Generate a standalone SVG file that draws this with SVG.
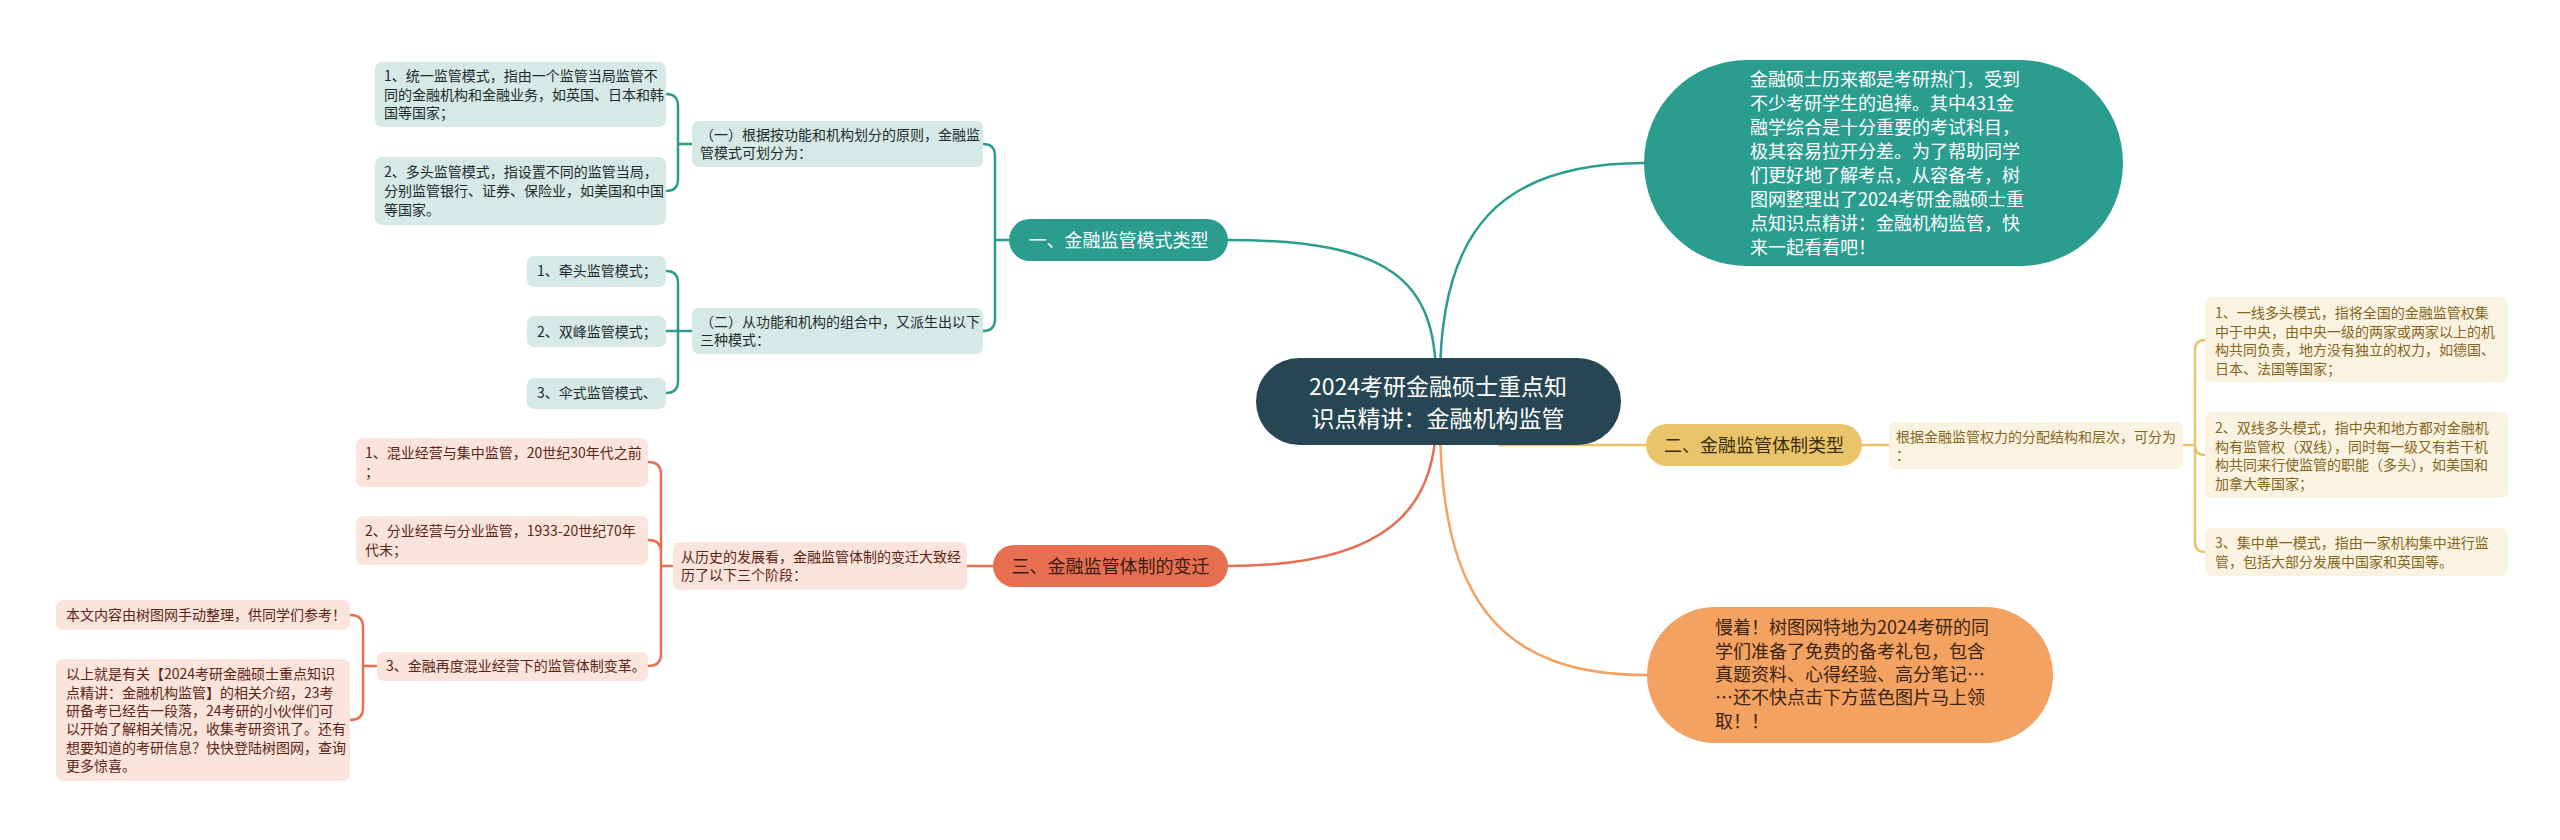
<svg xmlns="http://www.w3.org/2000/svg" width="2560" height="840" viewBox="0 0 2560 840">
<style>
text{font-family:"Noto Sans CJK SC","Noto Sans",sans-serif}
.s{font-size:14px}
.tp{font-size:18px}
.teal{fill:#d5e9e6}
.tealt{fill:#1e2b2a}
.red{fill:#fae4dc}
.redt{fill:#5e2414}
.yel{fill:#fbf3e2}
.yelt{fill:#86661c}
.c{fill:none;stroke-width:2.5;stroke-linecap:round}
.ct{stroke:#2a9d8f}
.cr{stroke:#e76f51}
.cy{stroke:#e9c46a}
.co{stroke:#f4a261}
</style>
<rect width="2560" height="840" fill="#ffffff"/>
<g id="connectors">
<path class="c ct" d="M1436 380 C1436 280 1390 240 1228 240"/>
<path class="c ct" d="M1440 380 C1440 230 1500 163 1644 163"/>
<path class="c cr" d="M1436 420 C1436 510 1385 566 1228 566"/>
<path class="c co" d="M1440 420 C1440 600 1500 675 1647 675"/>
<path class="c cy" d="M1500 445 L1646 445"/>
<path class="c ct" d="M1009 240 L995 240 M983 144 Q995 144 995 156 L995 319 Q995 331 983 331"/>
<path class="c ct" d="M666 94 Q678 94 678 106 L678 179 Q678 191 666 191 M678 144 L692 144"/>
<path class="c ct" d="M666 271 Q678 271 678 283 L678 381 Q678 393 666 393 M666 331 L692 331"/>
<path class="c cr" d="M993 566 L967 566"/>
<path class="c cr" d="M648 462 Q661 462 661 474 L661 654 Q661 666 648 666 M648 540 Q661 540 661 552 M661 566 L673 566"/>
<path class="c cr" d="M350 615 Q363 615 363 627 L363 708 Q363 720 350 720 M363 666 L377 666"/>
<path class="c cy" d="M1862 445 L1889 445"/>
<path class="c cy" d="M2183 445 L2195 445 M2205 340 Q2195 340 2195 350 L2195 542 Q2195 552 2205 552 M2205 455 Q2195 455 2195 445"/>
</g>
<g id="root">
<rect x="1256" y="358" width="365" height="87" rx="43.5" fill="#264653"/>
<text x="1438" y="395" font-size="23" fill="#ffffff" text-anchor="middle">2024考研金融硕士重点知</text>
<text x="1438" y="427" font-size="23" fill="#ffffff" text-anchor="middle">识点精讲：金融机构监管</text>
</g>
<g id="t1">
<rect x="1009" y="219" width="219" height="42" rx="21" fill="#2a9d8f"/>
<text class="tp" x="1118.5" y="246.5" fill="#ffffff" text-anchor="middle">一、金融监管模式类型</text>
</g>
<g id="a">
<rect class="teal" x="692" y="121" width="291" height="46" rx="7"/>
<text class="s tealt" x="700" y="140">（一）根据按功能和机构划分的原则，金融监</text>
<text class="s tealt" x="700" y="158">管模式可划分为：</text>
</g>
<g id="a1">
<rect class="teal" x="375" y="62" width="291" height="65" rx="7"/>
<text class="s tealt" x="384" y="81">1、统一监管模式，指由一个监管当局监管不</text>
<text class="s tealt" x="384" y="99.5">同的金融机构和金融业务，如英国、日本和韩</text>
<text class="s tealt" x="384" y="118">国等国家；</text>
</g>
<g id="a2">
<rect class="teal" x="375" y="157" width="291" height="68" rx="7"/>
<text class="s tealt" x="384" y="177">2、多头监管模式，指设置不同的监管当局，</text>
<text class="s tealt" x="384" y="196">分别监管银行、证券、保险业，如美国和中国</text>
<text class="s tealt" x="384" y="215">等国家。</text>
</g>
<g id="b">
<rect class="teal" x="692" y="308" width="291" height="46" rx="7"/>
<text class="s tealt" x="700" y="327">（二）从功能和机构的组合中，又派生出以下</text>
<text class="s tealt" x="700" y="345">三种模式：</text>
</g>
<g id="b1">
<rect class="teal" x="527" y="256" width="139" height="31" rx="7"/>
<text class="s tealt" x="537" y="276">1、牵头监管模式；</text>
</g>
<g id="b2">
<rect class="teal" x="527" y="316" width="139" height="31" rx="7"/>
<text class="s tealt" x="537" y="336.5">2、双峰监管模式；</text>
</g>
<g id="b3">
<rect class="teal" x="527" y="378" width="139" height="31" rx="7"/>
<text class="s tealt" x="537" y="398">3、伞式监管模式、</text>
</g>
<g id="t3">
<rect x="993" y="545" width="235" height="42" rx="21" fill="#e76f51"/>
<text class="tp" x="1110.5" y="572.5" fill="#3b1a10" text-anchor="middle">三、金融监管体制的变迁</text>
</g>
<g id="c">
<rect class="red" x="673" y="542" width="294" height="48" rx="7"/>
<text class="s redt" x="681" y="562">从历史的发展看，金融监管体制的变迁大致经</text>
<text class="s redt" x="681" y="580">历了以下三个阶段：</text>
</g>
<g id="c1">
<rect class="red" x="356" y="438" width="292" height="49" rx="7"/>
<text class="s redt" x="365" y="458">1、混业经营与集中监管，20世纪30年代之前</text>
<text class="s redt" x="365" y="477">；</text>
</g>
<g id="c2">
<rect class="red" x="356" y="516" width="292" height="49" rx="7"/>
<text class="s redt" x="365" y="536">2、分业经营与分业监管，1933-20世纪70年</text>
<text class="s redt" x="365" y="555">代末；</text>
</g>
<g id="c3">
<rect class="red" x="377" y="652" width="271" height="29" rx="7"/>
<text class="s redt" x="386" y="671">3、金融再度混业经营下的监管体制变革。</text>
</g>
<g id="d1">
<rect class="red" x="56" y="600" width="294" height="30" rx="7"/>
<text class="s redt" x="66" y="620">本文内容由树图网手动整理，供同学们参考！</text>
</g>
<g id="d2">
<rect class="red" x="56" y="659" width="294" height="122" rx="7"/>
<text class="s redt" x="66" y="679">以上就是有关【2024考研金融硕士重点知识</text>
<text class="s redt" x="66" y="698">点精讲：金融机构监管】的相关介绍，23考</text>
<text class="s redt" x="66" y="716">研备考已经告一段落，24考研的小伙伴们可</text>
<text class="s redt" x="66" y="734">以开始了解相关情况，收集考研资讯了。还有</text>
<text class="s redt" x="66" y="753">想要知道的考研信息？快快登陆树图网，查询</text>
<text class="s redt" x="66" y="771">更多惊喜。</text>
</g>
<g id="t2">
<rect x="1646" y="424" width="216" height="42" rx="21" fill="#e9c46a"/>
<text class="tp" x="1754" y="451.5" fill="#3a2c0a" text-anchor="middle">二、金融监管体制类型</text>
</g>
<g id="e">
<rect class="yel" x="1889" y="422" width="294" height="47" rx="7"/>
<text class="s yelt" x="1896" y="442">根据金融监管权力的分配结构和层次，可分为</text>
<text class="s yelt" x="1896" y="460">：</text>
</g>
<g id="e1">
<rect class="yel" x="2205" y="297" width="303" height="85" rx="7"/>
<text class="s yelt" x="2215" y="318">1、一线多头模式，指将全国的金融监管权集</text>
<text class="s yelt" x="2215" y="337">中于中央，由中央一级的两家或两家以上的机</text>
<text class="s yelt" x="2215" y="355">构共同负责，地方没有独立的权力，如德国、</text>
<text class="s yelt" x="2215" y="374">日本、法国等国家；</text>
</g>
<g id="e2">
<rect class="yel" x="2205" y="412" width="303" height="86" rx="7"/>
<text class="s yelt" x="2215" y="433">2、双线多头模式，指中央和地方都对金融机</text>
<text class="s yelt" x="2215" y="452">构有监管权（双线），同时每一级又有若干机</text>
<text class="s yelt" x="2215" y="470">构共同来行使监管的职能（多头），如美国和</text>
<text class="s yelt" x="2215" y="489">加拿大等国家；</text>
</g>
<g id="e3">
<rect class="yel" x="2205" y="528" width="303" height="48" rx="7"/>
<text class="s yelt" x="2215" y="548">3、集中单一模式，指由一家机构集中进行监</text>
<text class="s yelt" x="2215" y="567">管，包括大部分发展中国家和英国等。</text>
</g>
<g id="r1">
<rect x="1644" y="60" width="479" height="206" rx="103" fill="#2a9d8f"/>
<g font-size="18" fill="#ffffff">
<text x="1750" y="86">金融硕士历来都是考研热门，受到</text>
<text x="1750" y="110">不少考研学生的追捧。其中431金</text>
<text x="1750" y="134">融学综合是十分重要的考试科目，</text>
<text x="1750" y="158">极其容易拉开分差。为了帮助同学</text>
<text x="1750" y="182">们更好地了解考点，从容备考，树</text>
<text x="1750" y="206">图网整理出了2024考研金融硕士重</text>
<text x="1750" y="230">点知识点精讲：金融机构监管，快</text>
<text x="1750" y="254">来一起看看吧！</text>
</g>
</g>
<g id="r2">
<rect x="1647" y="607" width="406" height="136" rx="68" fill="#f4a261"/>
<g font-size="18" fill="#3a2410">
<text x="1715" y="634">慢着！树图网特地为2024考研的同</text>
<text x="1715" y="658">学们准备了免费的备考礼包，包含</text>
<text x="1715" y="681">真题资料、心得经验、高分笔记…</text>
<text x="1715" y="704">…还不快点击下方蓝色图片马上领</text>
<text x="1715" y="728">取！！</text>
</g>
</g>
</svg>
